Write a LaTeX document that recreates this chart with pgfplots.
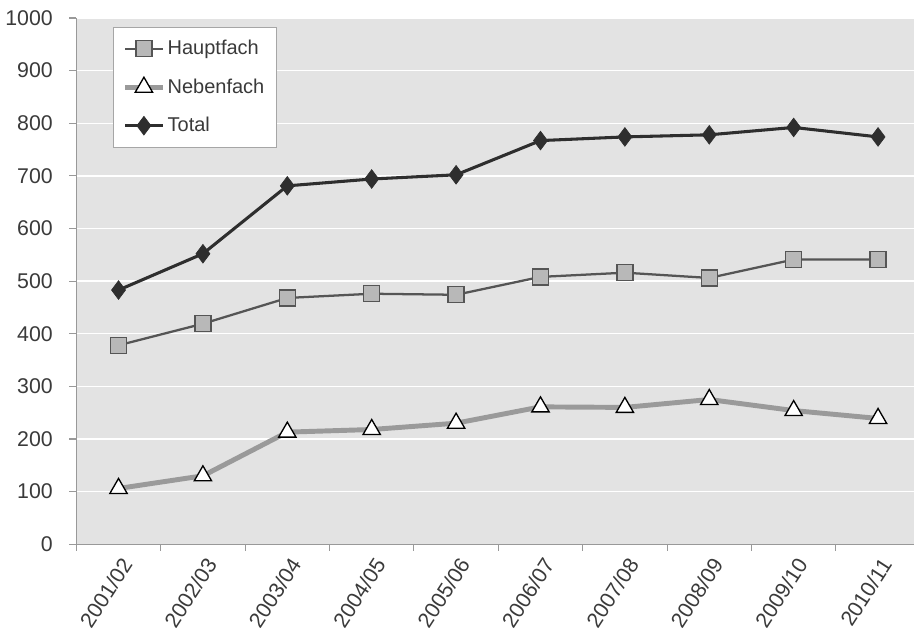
\documentclass[border=0pt]{standalone}
\usepackage{pgfplots}
\pgfplotsset{compat=1.18}
\usepackage{fontspec}
\setmainfont{Liberation Sans}
\definecolor{bg}{HTML}{E3E3E3}
\definecolor{txt}{HTML}{3A3A3A}
\definecolor{totc}{HTML}{2E2E2E}
\definecolor{haupc}{HTML}{555555}
\definecolor{hfill}{HTML}{B8B8B8}
\definecolor{nebc}{HTML}{9A9A9A}
\begin{document}
\begin{tikzpicture}
\begin{axis}[
  scale only axis, width=629pt, height=395pt,
  xmin=-0.5, xmax=9.43, ymin=0, ymax=1000,
  axis background/.style={fill=bg},
  axis x line*=bottom, axis y line*=left,
  axis line style={draw=gray!80, line width=0.8pt},
  xtick={0,...,9},
  xticklabels={2001/02,2002/03,2003/04,2004/05,2005/06,2006/07,2007/08,2008/09,2009/10,2010/11},
  minor xtick={-0.5,0.5,...,9.5},
  major x tick style={draw=none},
  minor tick length=5pt,
  tick align=outside,
  ytick={0,100,...,1000},
  ymajorgrids, grid style={white, line width=1pt},
  major tick length=5.5pt,
  tick style={gray!80, line width=0.8pt},
  xticklabel style={font=\fontsize{16}{18}\selectfont, text=txt, rotate=57, anchor=east, inner sep=3pt, yshift=-9pt, xshift=1pt},
  yticklabel style={font=\fontsize{16}{18}\selectfont, text=txt, inner sep=4pt, xshift=-8pt},
  /pgf/number format/assume math mode=true,
  /pgf/number format/1000 sep={},
  legend style={at={(rel axis cs:0.044,0.983)}, anchor=north west, draw=gray!70, fill=white,
    font=\fontsize{15}{17}\selectfont, text=txt, row sep=12.5pt, inner xsep=7pt, inner ysep=8pt},
  legend cell align=left,
  legend image code/.code={\draw[#1] (0pt,0pt) -- (28pt,0pt); \draw[#1, mark repeat=2, mark phase=2] plot coordinates {(0pt,0pt) (14pt,0pt) (28pt,0pt)};},
]
\addplot[haupc, line width=1.7pt, mark=square*, mark size=6pt, mark options={fill=hfill, draw=haupc, line width=1pt}]
  coordinates {(0,378) (1,419) (2,468) (3,476) (4,474) (5,508) (6,516) (7,506) (8,541) (9,541)};
\addlegendentry{Hauptfach}
\addplot[nebc, line width=3.7pt, mark=triangle*, mark size=7.5pt, mark options={fill=white, draw=black, line width=1pt}]
  coordinates {(0,106) (1,130) (2,213) (3,218) (4,230) (5,261) (6,260) (7,275) (8,254) (9,239)};
\addlegendentry{Nebenfach}
\addplot[totc, line width=2.3pt, mark=diamond*, mark size=7pt, mark options={fill=totc, draw=totc, line width=0.5pt}]
  coordinates {(0,483) (1,552) (2,681) (3,694) (4,702) (5,767) (6,774) (7,778) (8,792) (9,774)};
\addlegendentry{Total}
\end{axis}
\path ([yshift=13.5pt]current axis.north);
\end{tikzpicture}
\end{document}
